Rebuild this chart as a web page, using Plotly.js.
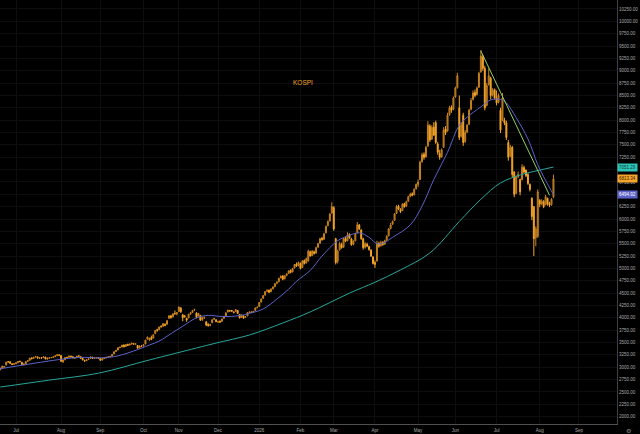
<!DOCTYPE html>
<html><head><meta charset="utf-8">
<script src="https://cdn.plot.ly/plotly-3.0.1.min.js"></script>
<style>html,body{margin:0;padding:0;background:#000;}#chart{width:640px;height:434px;}</style>
</head><body><div id="chart"></div>
<script>
// Month tick labels and trading days of the preceding month (first entry = partial June 2025)
const monthLabels = ['Jul','Aug','Sep','Oct','Nov','Dec','2026','Feb','Mar','Apr','May','Jun','Jul','Aug','Sep'];
const tradingDaysBefore = [8,23,20,22,18,20,21,21,17,21,22,19,21,22,20];

const open = [
2950,2985,3000,3045,3110,3110,3070,3060,
3075,3095,3120,3100,3060,3070,3120,3140,3190,3180,3210,3210,3180,3195,3195,3205,3165,3190,3195,3200,3215,3235,3250,
3240,3110,3150,3200,3205,3225,3215,3185,3195,3230,3215,3175,3140,3135,3160,3180,3205,3180,3190,3195,
3180,3145,3175,3190,3205,3210,3225,3270,3320,3350,3400,3410,3450,3420,3465,3450,3470,3475,3470,3440,3395,3430,
3430,3470,3570,3560,3600,3590,3680,3760,3760,3830,3830,3870,3870,3990,4040,4020,4090,4080,
4130,4200,4060,4040,3990,4000,4080,4110,4160,4100,4040,4050,3960,4000,3920,3870,3850,3900,3970,3960,
3920,3930,3930,3990,4040,4120,4150,4150,4120,4130,4150,4070,4010,4040,4010,4040,4110,4120,4115,4150,4210,
4230,4320,4400,4460,4540,4560,4530,4590,4630,4700,4730,4810,4850,4790,4860,4900,4960,4930,5010,5090,5060,
5100,5020,5160,5110,5150,5340,5260,5340,5310,5430,5510,5610,5590,5720,5870,5960,6120,
6230,5600,5150,5380,5480,5430,5610,5560,5690,5600,5490,5560,5720,5880,5780,5600,5430,5490,5440,5370,5230,
5120,5150,5510,5460,5530,5490,5570,5660,5810,5900,5970,6110,6260,6190,6170,6310,6260,6360,6460,6510,6490,6610,
6700,6800,7160,7310,7260,7480,7880,7620,7860,7950,7520,7330,7260,7450,7820,7780,8110,8260,8220,
8470,8660,8250,7680,8100,7570,7760,7920,8220,8420,8560,8520,8670,8980,9280,9050,8300,8720,8850,8520,8620,
8450,8360,8200,8000,8000,7950,7550,7280,7450,6950,6520,6860,6800,6800,7040,6990,6900,6700,6420,6250,5620,5650,
6380,6310,6360,6290,6420,6310,6290,6450];

const high = [
2990,3030,3025,3110,3125,3120,3080,3080,
3100,3125,3135,3110,3075,3120,3140,3190,3200,3210,3230,3215,3200,3205,3220,3210,3195,3200,3210,3215,3240,3260,3255,
3245,3150,3200,3210,3230,3235,3220,3200,3230,3240,3220,3185,3150,3160,3175,3215,3210,3195,3200,3200,
3185,3180,3195,3210,3220,3230,3265,3320,3350,3400,3415,3450,3460,3465,3475,3475,3495,3485,3485,3450,3440,3440,
3460,3555,3620,3600,3640,3660,3750,3780,3820,3850,3890,3885,3950,4050,4060,4090,4150,4110,
4230,4215,4080,4060,4000,4080,4120,4160,4185,4110,4100,4060,4020,4030,3930,3890,3880,3970,4000,3970,
3940,3950,3985,4040,4110,4165,4160,4160,4130,4175,4155,4075,4065,4050,4030,4110,4130,4125,4135,4210,4230,
4320,4390,4460,4540,4580,4570,4600,4640,4700,4740,4810,4860,4860,4860,4900,4960,4980,5010,5090,5120,5140,
5120,5170,5180,5220,5380,5360,5370,5360,5440,5520,5620,5640,5720,5870,5970,6120,6340,
6260,5620,5380,5540,5520,5620,5640,5730,5710,5620,5570,5720,5940,5900,5790,5620,5530,5520,5460,5390,5250,
5160,5560,5540,5560,5550,5580,5670,5820,5920,5970,6120,6280,6290,6220,6320,6330,6370,6470,6530,6540,6620,6720,
6800,7180,7340,7350,7480,7980,7920,7900,7960,7990,7560,7400,7430,7860,7880,8150,8290,8300,8480,
8680,8960,8500,7950,8150,7800,7920,8230,8450,8600,8620,8680,8980,9420,9320,9100,8750,9050,8880,8650,8640,
8600,8540,8250,8550,8050,7990,7600,7500,7480,6970,6880,6960,6820,7110,7080,7000,6930,6720,6440,6260,5850,6600,
6400,6400,6380,6490,6430,6350,6420,6900];

const low = [
2940,2975,2990,3040,3095,3070,3045,3050,
3060,3080,3100,3045,3040,3065,3110,3135,3160,3170,3200,3175,3170,3175,3185,3160,3155,3175,3185,3190,3205,3225,3230,
3115,3090,3145,3185,3195,3200,3185,3175,3190,3215,3170,3140,3110,3125,3150,3175,3170,3170,3180,3175,
3130,3140,3165,3180,3195,3205,3220,3265,3310,3345,3385,3405,3405,3415,3430,3440,3460,3455,3455,3380,3390,3410,
3420,3465,3560,3530,3550,3585,3675,3720,3750,3800,3825,3830,3865,3985,3980,4010,4060,4050,
4120,4100,3930,4000,3920,3995,4060,4100,4140,3990,4030,3940,3940,3980,3830,3820,3830,3895,3955,3910,
3900,3900,3920,3980,4030,4110,4120,4120,4090,4125,4080,3990,4000,3985,4000,4035,4100,4100,4110,4145,4190,
4225,4310,4380,4450,4520,4500,4520,4575,4620,4680,4720,4800,4760,4780,4840,4890,4900,4920,5000,5030,5040,
4980,5010,5080,5100,5140,5240,5250,5280,5300,5420,5500,5560,5580,5710,5850,5950,6110,
5760,5080,5100,5360,5400,5420,5530,5550,5600,5460,5470,5550,5710,5780,5580,5380,5400,5430,5360,5230,5080,
5010,5140,5420,5440,5460,5480,5560,5650,5790,5880,5960,6100,6180,6120,6160,6230,6250,6350,6440,6460,6480,6600,
6650,6790,7140,7200,7240,7460,7560,7600,7680,7520,7300,7200,7240,7440,7700,7770,8090,8150,8200,
8450,8640,7600,7650,7480,7540,7740,7900,8200,8400,8460,8500,8650,8960,9000,8200,8280,8700,8420,8480,8420,
8300,8340,7740,7980,7900,7600,7180,7250,6850,6440,6500,6830,6480,6780,6920,6850,6690,6560,5980,5250,5450,5620,
6240,6280,6220,6280,6270,6240,6270,6420];

const close = [
2978,3022,3014,3104,3109,3080,3056,3072,
3090,3116,3116,3054,3059,3115,3133,3183,3175,3202,3215,3187,3192,3188,3211,3170,3184,3190,3196,3210,3230,3254,3245,
3120,3148,3198,3199,3227,3210,3189,3190,3224,3225,3178,3151,3130,3154,3169,3210,3180,3187,3196,3186,
3142,3172,3184,3201,3205,3219,3260,3314,3345,3396,3407,3449,3413,3461,3445,3469,3486,3472,3471,3386,3431,3425,
3456,3549,3610,3585,3562,3657,3748,3749,3815,3823,3884,3846,3942,4042,4011,4082,4087,4107,
4221,4122,4004,4027,3954,4074,4106,4150,4170,4012,4090,3954,4005,4004,3853,3846,3858,3960,3987,3927,
3921,3914,3977,4028,4101,4155,4144,4136,4111,4168,4091,3999,4056,3994,4021,4106,4118,4108,4130,4200,4215,
4310,4380,4450,4530,4550,4520,4580,4620,4690,4720,4800,4840,4780,4850,4890,4950,4920,5000,5080,5050,5120,
5000,5150,5100,5200,5350,5250,5350,5300,5420,5500,5600,5580,5700,5850,5950,6100,6250,
5800,5120,5350,5500,5420,5600,5550,5680,5620,5480,5550,5700,5880,5800,5600,5420,5500,5450,5380,5250,5100,
5080,5500,5450,5520,5480,5560,5650,5800,5880,5950,6100,6250,6200,6150,6300,6250,6350,6450,6500,6480,6600,6700,
6750,7150,7300,7250,7450,7900,7600,7850,7700,7550,7350,7250,7400,7800,7750,8100,8250,8200,8450,
8650,8900,7650,7900,7550,7750,7900,8200,8400,8550,8500,8650,8950,9300,9050,8250,8700,8900,8500,8600,8450,
8350,8500,7800,8450,7950,7650,7250,7450,6900,6500,6850,6900,6550,7050,6950,6880,6720,6600,6050,5600,5800,6550,
6300,6350,6250,6450,6300,6280,6400,6813.34];

// Moving averages (trading-day index, value)
const blueIdx = [0,14,27,40,51,60,68,76,81,87,93,100,106,112,118,124,127,134,141,147,151,158,164,172,178,183,188,192,195,200,209,215,221,228,234,238,245,250,255,258,263,269,274,278,282];
const blueVal = [2970,3060,3140,3200,3190,3230,3330,3450,3530,3680,3830,4000,4050,4030,4030,4060,4090,4180,4380,4580,4740,4960,5250,5560,5670,5720,5630,5500,5510,5630,5880,6260,6800,7350,7900,8060,8270,8410,8420,8350,8050,7620,7100,6780,6494.92];
const tealIdx = [0,25,50,76,100,110,127,144,158,178,191,204,219,234,245,255,265,275,282];
const tealVal = [2600,2740,2880,3148,3390,3490,3653,3896,4120,4500,4720,4970,5313,5950,6400,6730,6890,6990,7051.29];
const trendIdx = [245,280];
const trendVal = [9400,6480];

const idx = close.map((_, i) => i);
const tickIdx = [];
let acc = 0;
for (const d of tradingDaysBefore) { acc += d; tickIdx.push(acc); }

const ORANGE = '#f5a52a';
const traces = [
  {type:'scatter', mode:'lines', x:tealIdx, y:tealVal, line:{color:'#26a69a', width:1, shape:'spline'}, hoverinfo:'skip'},
  {type:'scatter', mode:'lines', x:blueIdx, y:blueVal, line:{color:'#5c62c9', width:1, shape:'spline'}, hoverinfo:'skip'},
  {type:'candlestick', x:idx, open:open, high:high, low:low, close:close,
   increasing:{line:{color:'#c98422', width:1}, fillcolor:'rgba(201,132,34,0.55)'},
   decreasing:{line:{color:ORANGE, width:1}, fillcolor:ORANGE},
   whiskerwidth:0, hoverinfo:'skip'},
  {type:'scatter', mode:'lines', x:trendIdx, y:trendVal, line:{color:'#8fd163', width:1}, hoverinfo:'skip'}
];

const lastClose = close[close.length-1];
const lbl = (v, bg, fg) => ({xref:'paper', x:1, xanchor:'left', xshift:0, yref:'y', y:v, text:v.toFixed(2),
  showarrow:false, bgcolor:bg, borderpad:1, font:{family:'Liberation Sans, Arial', size:4.5, color:fg}});

const layout = {
  width:640, height:434,
  paper_bgcolor:'#000', plot_bgcolor:'#000',
  margin:{l:0, r:23, t:0, b:10},
  showlegend:false,
  font:{family:'Liberation Sans, Arial', color:'#aaaaaa'},
  xaxis:{range:[-0.16, 314.4], tickvals:tickIdx, ticktext:monthLabels, showgrid:true, gridcolor:'#0e0e0e',
    showline:true, linecolor:'#505050', linewidth:1, zeroline:false, ticks:'', ticklabelstandoff:2,
    tickfont:{size:4.5, color:'#aaaaaa'}, rangeslider:{visible:false}, fixedrange:true},
  yaxis:{side:'right', range:[1852, 10432], tick0:0, dtick:250, tickformat:'.2f', showgrid:true, gridcolor:'#0e0e0e',
    showline:true, linecolor:'#404040', linewidth:1, zeroline:false, ticks:'', tickfont:{size:4.5, color:'#aaaaaa'}, fixedrange:true},
  annotations:[
    {xref:'paper', yref:'paper', x:0.491, y:0.818, text:'KOSPI', showarrow:false,
     font:{family:'Liberation Sans, Arial', size:6.5, color:ORANGE}},
    lbl(tealVal[tealVal.length-1], '#2ec4b6', '#0a3a36'),
    lbl(lastClose, ORANGE, '#3a2000'),
    lbl(blueVal[blueVal.length-1], '#5c62c9', '#ffffff'),
    {xref:'paper', yref:'paper', x:1, y:0, xanchor:'left', yanchor:'top', xshift:7, yshift:-2, text:'⚙', showarrow:false,
     font:{size:6, color:'#888888'}}
  ]
};

Plotly.newPlot('chart', traces, layout, {displayModeBar:false, staticPlot:true});
</script>
</body></html>
